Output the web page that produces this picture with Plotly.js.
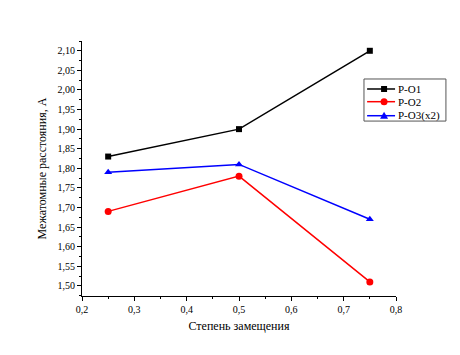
<!DOCTYPE html>
<html>
<head>
<meta charset="utf-8">
<script src="https://cdn.plot.ly/plotly-3.0.1.min.js"></script>
<style>html,body{margin:0;padding:0;background:#fff;}#chart{width:460px;height:355px;}</style>
</head>
<body>
<div id="chart"></div>
<script>
var xValues = [0.25, 0.5, 0.75];
var seriesNames = ["P-O1", "P-O2", "P-O3(x2)"];
var po1 = [1.83, 1.90, 2.10];
var po2 = [1.69, 1.78, 1.51];
var po3 = [1.79, 1.81, 1.67];
var xTitle = "Степень замещения";
var yTitle = "Межатомные расстояния, А";

var font = "Liberation Serif";
var colors = ["#000000", "#ff0000", "#0000ff"];
var symbols = ["square", "circle", "triangle-up"];
var sizes = [6, 7, 7];
var seriesData = [po1, po2, po3];

var traces = seriesData.map(function (ys, i) {
  return {x: xValues, y: ys, name: seriesNames[i], mode: "lines+markers", showlegend: false,
          line: {color: colors[i], width: 1.5},
          marker: {symbol: symbols[i], size: sizes[i], color: colors[i]}};
});

// Compact legend (Origin-style), drawn in paper coordinates
var shapes = [];
var annotations = [];
shapes.push({type: "rect", xref: "paper", yref: "paper", x0: 0.898, x1: 1.159, y0: 0.686, y1: 0.851,
             line: {color: "#555", width: 1}, fillcolor: "#fff", layer: "above"});
var rowY = [0.8118, 0.762, 0.707];
seriesNames.forEach(function (name, i) {
  var y = rowY[i];
  shapes.push({type: "line", xref: "paper", yref: "paper", x0: 0.908, x1: 0.997, y0: y, y1: y,
               line: {color: colors[i], width: 1.5}, layer: "above"});
  var mk = {xref: "paper", yref: "paper", xsizemode: "pixel", ysizemode: "pixel",
            xanchor: 0.962, yanchor: y, fillcolor: colors[i], line: {color: colors[i], width: 0}, layer: "above"};
  if (symbols[i] === "square") {
    shapes.push(Object.assign({type: "rect", x0: -3, x1: 3, y0: -3, y1: 3}, mk));
  } else if (symbols[i] === "circle") {
    shapes.push(Object.assign({type: "circle", x0: -3.5, x1: 3.5, y0: -3.5, y1: 3.5}, mk));
  } else {
    shapes.push(Object.assign({type: "path", path: "M -4 -3 L 4 -3 L 0 4 Z"}, mk));
  }
  annotations.push({xref: "paper", yref: "paper", x: 1.003, y: y, xanchor: "left", yanchor: "middle",
                    text: name, showarrow: false, borderpad: 0, font: {family: font, size: 11, color: "#000"}});
});

var layout = {
  width: 460, height: 355,
  margin: {l: 82, r: 64, t: 41, b: 59},
  paper_bgcolor: "#fff", plot_bgcolor: "#fff",
  separators: ", ",
  font: {family: font, size: 10, color: "#000"},
  showlegend: false,
  shapes: shapes,
  annotations: annotations,
  xaxis: {range: [0.2, 0.8], dtick: 0.1, tick0: 0.2, tickformat: ".1f",
          showgrid: false, zeroline: false, showline: true, linecolor: "#000", linewidth: 1,
          ticks: "outside", ticklen: 4, tickcolor: "#000",
          minor: {dtick: 0.05, ticks: "outside", ticklen: 2, tickcolor: "#000", showgrid: false},
          tickfont: {family: font, size: 10},
          title: {text: xTitle, font: {family: font, size: 12}, standoff: 7}},
  yaxis: {range: [1.474, 2.125], dtick: 0.05, tick0: 1.5, tickformat: ".2f",
          showgrid: false, zeroline: false, showline: true, linecolor: "#000", linewidth: 1,
          ticks: "outside", ticklen: 4, tickcolor: "#000",
          minor: {dtick: 0.025, ticks: "outside", ticklen: 2, tickcolor: "#000", showgrid: false},
          tickfont: {family: font, size: 10},
          title: {text: yTitle, font: {family: font, size: 12}, standoff: 8}}
};
Plotly.newPlot("chart", traces, layout, {displayModeBar: false, staticPlot: true});
</script>
</body>
</html>
